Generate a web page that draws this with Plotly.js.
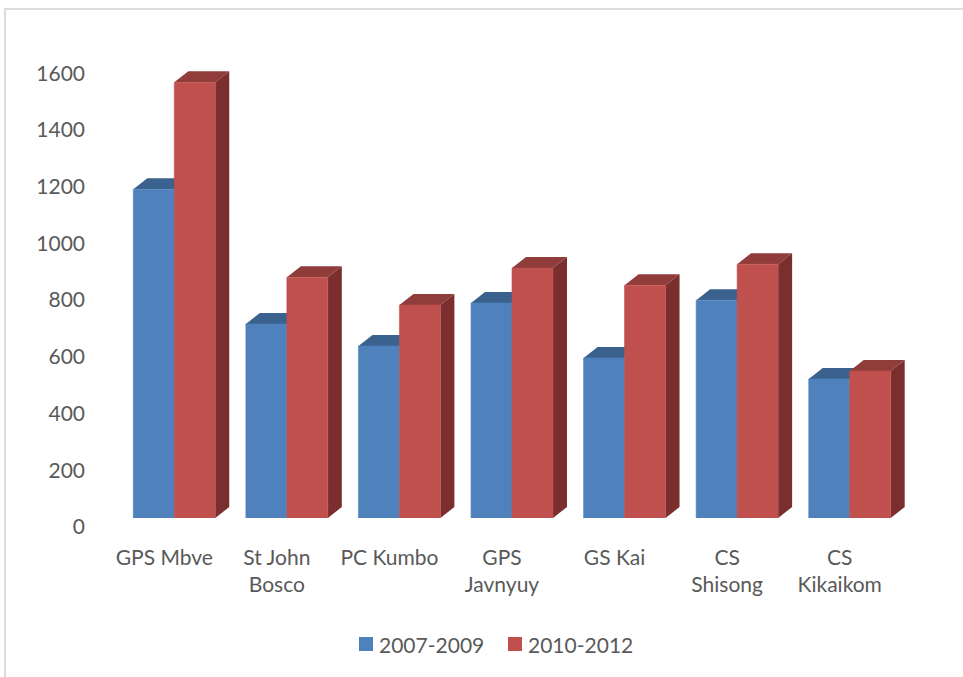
<!DOCTYPE html>
<html>
<head>
<meta charset="utf-8">
<script src="https://cdn.plot.ly/plotly-3.0.1.min.js"></script>
<style>
  html, body { margin: 0; padding: 0; background: #fff; overflow: hidden; }
  #chart { position: absolute; left: 0; top: 0; width: 963px; height: 677px; }
  #frame { position: absolute; left: 4px; top: 8px; right: 0; bottom: 0;
           border-left: 2px solid #dcdcdc; border-top: 2px solid #dcdcdc; pointer-events: none; }
</style>
</head>
<body>
<div id="chart"></div>
<div id="frame"></div>
<script>
// Enrolment per school over two three-year periods
const schools = ['GPS Mbve', 'St John<br>Bosco', 'PC Kumbo', 'GPS<br>Javnyuy', 'GS Kai', 'CS<br>Shisong', 'CS<br>Kikaikom'];
const seriesNames = ['2007-2009', '2010-2012'];
const period1 = [1159, 684, 606, 758, 564, 768, 490];
const period2 = [1536, 849, 751, 881, 821, 895, 518];
const yTicks = [0, 200, 400, 600, 800, 1000, 1200, 1400, 1600];

// Face colours for the extruded columns
const blue = { front: '#4F81BD', top: '#3B618E' };
const red = { front: '#C0504D', top: '#903C3A', side: '#7A2F2E' };
const textColor = '#595959';
const fontSize = 21;

// Plot area in pixels
const W = 963, H = 677;
const m = { l: 118, r: 57, t: 50, b: 159 };
const plotW = W - m.l - m.r, plotH = H - m.t - m.b;
const yMax = 1650;

const barGap = 0.272;
const halfGroup = (1 - barGap) / 2;
// Extrusion depth in axis units
const depthX = 14 / (plotW / 7);
const depthY = 11 / (plotH / yMax);

const idx = schools.map((_, i) => i);

function topFace(x0, x1, v, color) {
  return {
    type: 'path', xref: 'x', yref: 'y', layer: 'below', fillcolor: color, line: { width: 0 },
    path: `M${x0},${v} L${x0 + depthX},${v + depthY} L${x1 + depthX},${v + depthY} L${x1},${v} Z`
  };
}
function sideFace(x, v, color) {
  return {
    type: 'path', xref: 'x', yref: 'y', layer: 'below', fillcolor: color, line: { width: 0 },
    path: `M${x},0 L${x + depthX},${depthY} L${x + depthX},${v + depthY} L${x},${v} Z`
  };
}

const shapes = [];
idx.forEach(i => shapes.push(topFace(i - halfGroup, i, period1[i], blue.top)));
idx.forEach(i => {
  shapes.push(topFace(i, i + halfGroup, period2[i], red.top));
  shapes.push(sideFace(i + halfGroup, period2[i], red.side));
});

// Legend row centred under the plot
const px = x => (x - m.l) / plotW;
const py = y => 1 - (y - m.t) / plotH;
const legendRow = [
  { swatch: 359, label: 377, color: blue.front },
  { swatch: 508, label: 526, color: red.front }
];
const annotations = [];
legendRow.forEach((e, k) => {
  shapes.push({
    type: 'rect', xref: 'paper', yref: 'paper', line: { width: 0 }, fillcolor: e.color,
    x0: px(e.swatch), x1: px(e.swatch + 14), y0: py(651), y1: py(637)
  });
  annotations.push({
    xref: 'paper', yref: 'paper', x: px(e.label), y: py(644), xanchor: 'left', yanchor: 'middle',
    text: seriesNames[k], showarrow: false, font: { family: 'Lato', size: fontSize, color: textColor }
  });
});

// A hairline in the fill colour closes the seam between adjoining columns
const traces = [
  { type: 'bar', name: seriesNames[0], x: idx, y: period1, marker: { color: blue.front, line: { width: 0.6, color: blue.front } } },
  { type: 'bar', name: seriesNames[1], x: idx, y: period2, marker: { color: red.front, line: { width: 0.6, color: red.front } } }
];

const layout = {
  width: W, height: H, margin: m, showlegend: false,
  paper_bgcolor: 'rgba(0,0,0,0)', plot_bgcolor: 'rgba(0,0,0,0)',
  barmode: 'group', bargap: barGap, bargroupgap: 0,
  font: { family: 'Lato', size: fontSize, color: textColor },
  xaxis: {
    type: 'linear', range: [-0.5, 6.5], tickmode: 'array', tickvals: idx, ticktext: schools,
    showgrid: false, zeroline: false, showline: false, ticks: '',
    ticklabelshift: -10, ticklabelstandoff: 25
  },
  yaxis: {
    range: [0, yMax], tickmode: 'array', tickvals: yTicks, ticktext: yTicks.map(String),
    showgrid: false, zeroline: false, showline: false, ticks: '',
    ticklabelshift: 9, ticklabelstandoff: 32
  },
  shapes, annotations
};

Plotly.newPlot('chart', traces, layout, { displayModeBar: false, staticPlot: true });
</script>
</body>
</html>
